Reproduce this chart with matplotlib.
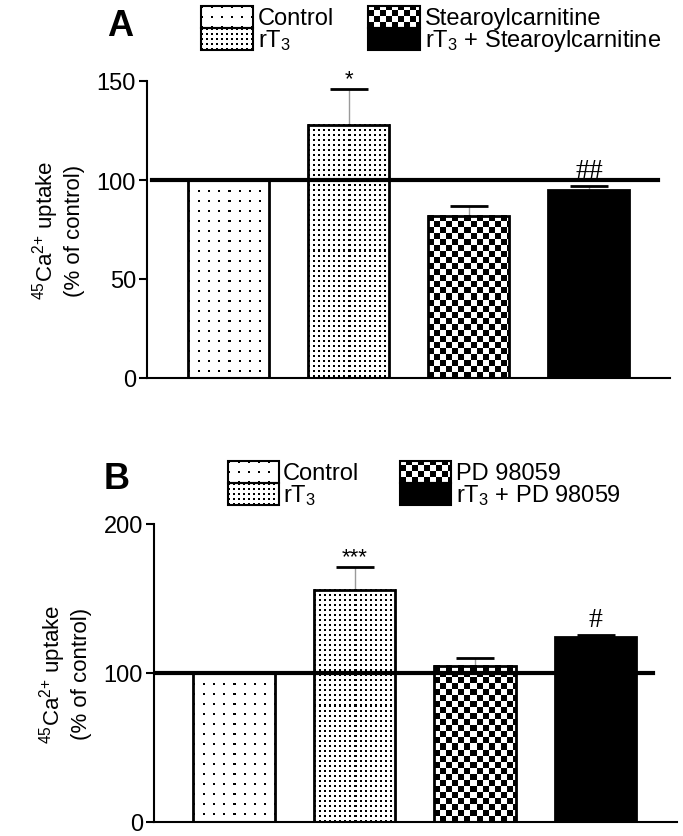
import matplotlib
matplotlib.use("Agg")
import matplotlib.pyplot as plt
from matplotlib.patches import Rectangle
import numpy as np

# panel A: rT3 vs stearoylcarnitine
groups_a = ["Control", "rT$_3$", "Stearoylcarnitine", "rT$_3$ + Stearoylcarnitine"]
uptake_a = [100, 128, 82, 95]
sem_a = [0, 18, 5, 2]
marks_a = ["", "*", "", "##"]
yticks_a = [0, 50, 100, 150]

# panel B: rT3 vs PD 98059
groups_b = ["Control", "rT$_3$", "PD 98059", "rT$_3$ + PD 98059"]
uptake_b = [100, 156, 105, 124]
sem_b = [0, 15, 5, 1.5]
marks_b = ["", "***", "", "#"]
yticks_b = [0, 100, 200]

fills = ["sparse", "dense", "checker", "solid"]
ylabel = "$^{45}$Ca$^{2{+}}$ uptake\n(% of control)"

plt.rcParams["font.family"] = ["Liberation Sans", "DejaVu Sans"]
plt.rcParams["mathtext.default"] = "regular"

W, H = 683, 837


def pattern(kind, w, h):
    jj, ii = np.meshgrid(np.arange(w), np.arange(h))
    if kind == "sparse":
        ink = ((ii % 10) < 2) & ((jj % 10) < 2)
    elif kind == "dense":
        ink = ((ii % 5) < 2) & ((jj % 5) < 2)
    else:
        ink = ((ii // 6 + jj // 6) % 2) == 0
    return np.where(ink, 0.0, 1.0)


def texture(ax, patch, kind):
    if kind == "solid":
        patch.set_facecolor("black")
        return
    bb = patch.get_window_extent()
    w = max(int(round(bb.width)), 1)
    h = max(int(round(bb.height)), 1)
    x0, y0 = patch.get_x(), patch.get_y()
    ext = (x0, x0 + patch.get_width(), y0, y0 + patch.get_height())
    ax.imshow(pattern(kind, w, h), cmap="gray", vmin=0, vmax=1, extent=ext,
              interpolation="nearest", aspect="auto", clip_path=patch, zorder=1.9)


def panel(ax, uptake, sem, marks, yticks, xlim, span):
    x = np.arange(len(uptake))
    bars = ax.bar(x, uptake, width=0.675, facecolor="none", edgecolor="black",
                  linewidth=2, zorder=2)
    ax.set_xlim(*xlim)
    ax.set_ylim(yticks[0], yticks[-1])
    ax.set_autoscale_on(False)
    for bar, kind in zip(bars, fills):
        texture(ax, bar, kind)

    eb = ax.errorbar(x, uptake, yerr=[np.zeros(len(sem)), sem], fmt="none",
                     ecolor="#9a9a9a", elinewidth=1, capsize=14, capthick=2,
                     zorder=1.5)
    caps = eb[1]
    caps[0].set_visible(False)
    for c in caps:
        c.set_markeredgecolor("black")
        c.set_markerfacecolor("black")

    ax.axhline(100, xmin=span[0], xmax=span[1], color="black", lw=3, zorder=3)

    for xi, top, s, m in zip(x, uptake, sem, marks):
        if not m:
            continue
        if "#" in m:
            ax.annotate(m, (xi, top + s), xytext=(0, 2), textcoords="offset points",
                        ha="center", va="bottom", fontsize=20,
                        family=["Liberation Serif", "DejaVu Serif"])
        else:
            ax.annotate(m, (xi, top + s), xytext=(0, 0), textcoords="offset points",
                        ha="center", va="bottom", fontsize=16)

    for side in ["top", "right"]:
        ax.spines[side].set_visible(False)
    for side in ["left", "bottom"]:
        ax.spines[side].set_linewidth(1.5)
    ax.set_xticks([])
    ax.set_yticks(yticks)
    ax.tick_params(axis="y", length=6, width=1.5, labelsize=17, pad=2)
    ax.set_ylabel(ylabel, fontsize=16, linespacing=1.2, labelpad=8)


def legend(lax, groups, box_x, text_x, row_top, box_w, box_h):
    for i, (label, kind) in enumerate(zip(groups, fills)):
        col, row = divmod(i, 2)
        r = Rectangle((box_x[col], row_top[row]), box_w, box_h, facecolor="none",
                      edgecolor="black", linewidth=1.5, zorder=2)
        lax.add_patch(r)
        texture(lax, r, kind)
        lax.text(text_x[col], row_top[row] + box_h / 2 + 1, label, fontsize=17,
                 ha="left", va="center")


fig = plt.figure(figsize=(W / 100, H / 100), dpi=100)

ax_a = fig.add_axes([147 / W, 1 - 379 / H, 523 / W, 297 / H])
panel(ax_a, uptake_a, sem_a, marks_a, yticks_a, (-0.683, 3.675), (0.01, 0.977))

ax_b = fig.add_axes([154 / W, 1 - 823 / H, 523 / W, 298 / H])
panel(ax_b, uptake_b, sem_b, marks_b, yticks_b, (-0.664, 3.676), (0.006, 0.954))

lax = fig.add_axes([0, 0, 1, 1])
lax.set_xlim(0, W)
lax.set_ylim(H, 0)
lax.set_autoscale_on(False)
lax.axis("off")
lax.patch.set_visible(False)
legend(lax, groups_a, (201, 368), (258, 425), (7, 29), 52, 22)
legend(lax, groups_b, (228, 400), (283, 456), (462, 484), 51, 22)

fig.text(120 / W, 1 - 27 / H, "A", fontsize=26, weight="bold", ha="center", va="center")
fig.text(117 / W, 1 - 480 / H, "B", fontsize=26, weight="bold", ha="center", va="center")

fig.savefig("out.png", dpi=100)
